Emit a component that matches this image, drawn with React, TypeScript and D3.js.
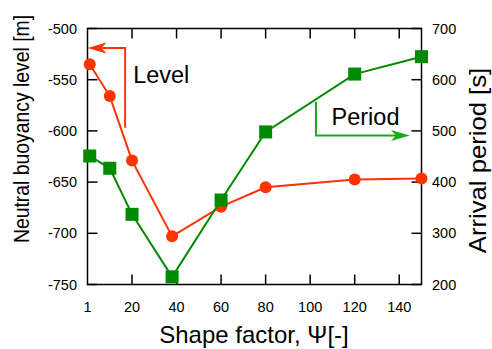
import React, { useRef, useEffect } from 'react';
import * as d3 from 'd3';

// Shape factor (x) and the two measured series
const psi = [1, 10, 20, 38, 60, 80, 120, 150];
const level = [-535, -566, -629, -703, -674, -655, -647.5, -646.5];
const period = [451, 427, 337, 215, 365, 498, 611, 645];

// tick labels
const xTicks = [1, 20, 40, 60, 80, 100, 120, 140];
const levelTicks = [-500, -550, -600, -650, -700, -750];
const periodTicks = [200, 300, 400, 500, 600, 700];

const RED = '#ff3300';
const GREEN = '#008a00';
const GREEN_ARROW = '#1aaa1a';

export default function App() {
  const svgRef = useRef<SVGSVGElement>(null);

  useEffect(() => {
    const svg = d3.select(svgRef.current);
    svg.selectAll('*').remove();

    const w = 492;
    const h = 349;
    const left = 87.5, right = 421.5, top = 28.5, bottom = 284.5;
    const font = '"Liberation Sans", Arial, sans-serif';

    svg.attr('width', w).attr('height', h);

    const x = d3.scaleLinear().domain([0, 150]).range([left, right]);
    const yL = d3.scaleLinear().domain([-750, -500]).range([bottom, top]);
    const yR = d3.scaleLinear().domain([200, 700]).range([bottom, top]);

    // frame
    svg.append('rect')
      .attr('x', left).attr('y', top)
      .attr('width', right - left).attr('height', bottom - top)
      .attr('fill', 'none').attr('stroke', 'black').attr('stroke-width', 1.5);

    const tickLen = 10;

    // x ticks (bottom + top, inward)
    const xg = svg.append('g');
    xTicks.forEach(t => {
      if (t > 1) {
        xg.append('line').attr('x1', x(t)).attr('x2', x(t)).attr('y1', bottom).attr('y2', bottom - tickLen)
          .attr('stroke', 'black').attr('stroke-width', 1.5);
        xg.append('line').attr('x1', x(t)).attr('x2', x(t)).attr('y1', top).attr('y2', top + tickLen)
          .attr('stroke', 'black').attr('stroke-width', 1.5);
      }
      xg.append('text').attr('x', t === 1 ? left : x(t)).attr('y', 312)
        .attr('text-anchor', 'middle').attr('font-family', font).attr('font-size', 14.5)
        .text(t);
    });

    // left ticks
    const lg = svg.append('g');
    levelTicks.forEach(t => {
      lg.append('line').attr('x1', left).attr('x2', left + tickLen).attr('y1', yL(t)).attr('y2', yL(t))
        .attr('stroke', 'black').attr('stroke-width', 1.5);
      lg.append('text').attr('x', 77).attr('y', yL(t)).attr('dy', '0.35em')
        .attr('text-anchor', 'end').attr('font-family', font).attr('font-size', 14.5)
        .text(t);
    });

    // right ticks
    const rg = svg.append('g');
    periodTicks.forEach(t => {
      rg.append('line').attr('x1', right).attr('x2', right - tickLen).attr('y1', yR(t)).attr('y2', yR(t))
        .attr('stroke', 'black').attr('stroke-width', 1.5);
      rg.append('text').attr('x', 432).attr('y', yR(t)).attr('dy', '0.35em')
        .attr('text-anchor', 'start').attr('font-family', font).attr('font-size', 14.5)
        .text(t);
    });

    // axis titles (squeezed along their length to fit like the original)
    svg.append('text')
      .attr('transform', `translate(28.5, 129) rotate(-90) scale(0.88, 1)`)
      .attr('text-anchor', 'middle').attr('font-family', font).attr('font-size', 22)
      .text('Neutral buoyancy level [m]');

    svg.append('text')
      .attr('transform', `translate(486, 160.5) rotate(-90) scale(1.07, 1)`)
      .attr('text-anchor', 'middle').attr('font-family', font).attr('font-size', 24)
      .text('Arrival period [s]');

    svg.append('text')
      .attr('x', 254).attr('y', 343)
      .attr('text-anchor', 'middle').attr('font-family', font).attr('font-size', 24)
      .text('Shape factor, \u03A8[-]');

    // Level series
    const lineL = d3.line<number>().x((d, i) => x(psi[i])).y(d => yL(d));
    svg.append('path').datum(level)
      .attr('fill', 'none').attr('stroke', RED).attr('stroke-width', 2)
      .attr('d', lineL);
    svg.append('g').selectAll('circle').data(level).join('circle')
      .attr('cx', (d, i) => x(psi[i])).attr('cy', d => yL(d)).attr('r', 6)
      .attr('fill', RED);

    // Period series
    const lineR = d3.line<number>().x((d, i) => x(psi[i])).y(d => yR(d));
    svg.append('path').datum(period)
      .attr('fill', 'none').attr('stroke', GREEN).attr('stroke-width', 2)
      .attr('d', lineR);
    const sq = 13;
    svg.append('g').selectAll('rect').data(period).join('rect')
      .attr('x', (d, i) => x(psi[i]) - sq / 2).attr('y', d => yR(d) - sq / 2)
      .attr('width', sq).attr('height', sq)
      .attr('fill', GREEN);

    // arrow head helper (notched, filled)
    const head = (tx: number, ty: number, dir: number, color: string) => {
      const L = 19, W = 5.5, N = 14;
      const p = d3.path();
      p.moveTo(tx, ty);
      p.lineTo(tx + dir * L, ty - W);
      p.lineTo(tx + dir * N, ty);
      p.lineTo(tx + dir * L, ty + W);
      p.closePath();
      svg.append('path').attr('d', p.toString()).attr('fill', color);
    };

    // "Level" annotation arrow
    const la = { x0: 16.9, yStart: -597, yEnd: -519 };
    svg.append('path')
      .attr('d', `M${x(la.x0)},${yL(la.yStart)} V${yL(la.yEnd)} H${x(0) + 8}`)
      .attr('fill', 'none').attr('stroke', RED).attr('stroke-width', 2);
    head(x(0), yL(la.yEnd), 1, RED);
    svg.append('text').attr('x', x(20.5)).attr('y', yL(-553.5))
      .attr('font-family', font).attr('font-size', 23.5).text('Level');

    // "Period" annotation arrow
    const pa = { x0: 102.6, yStart: 557, yEnd: 491, xEnd: 144.8 };
    svg.append('path')
      .attr('d', `M${x(pa.x0)},${yR(pa.yStart)} V${yR(pa.yEnd)} H${x(pa.xEnd) - 8}`)
      .attr('fill', 'none').attr('stroke', GREEN_ARROW).attr('stroke-width', 2);
    head(x(pa.xEnd), yR(pa.yEnd), -1, GREEN_ARROW);
    svg.append('text').attr('x', x(109.6)).attr('y', yR(511))
      .attr('font-family', font).attr('font-size', 23.5).text('Period');
  }, []);

  return (
    <div>
      <svg ref={svgRef} style={{ position: 'absolute', left: 0, top: 0, background: 'white' }}></svg>
    </div>
  );
}
